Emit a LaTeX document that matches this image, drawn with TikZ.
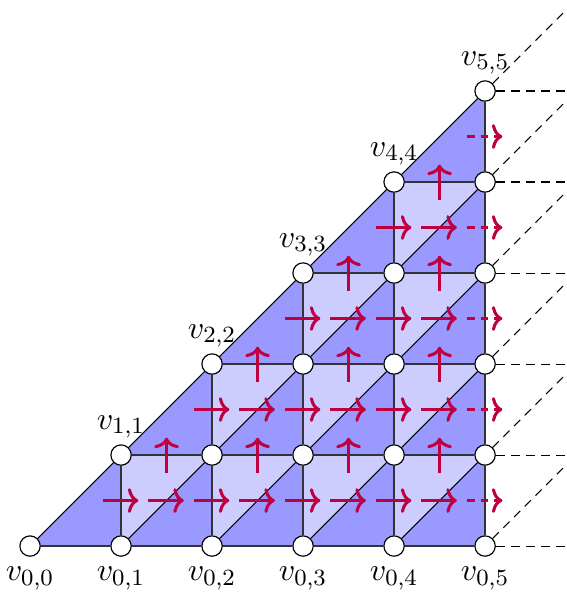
\documentclass[tikz,border=0pt]{standalone}
\usepackage{tikz}
\usetikzlibrary{arrows.meta, calc, backgrounds}

\begin{document}
\begin{tikzpicture}[x=1.1cm, y=1.1cm,
    vert/.style={circle, draw, fill=white, inner sep=0pt, minimum size=7pt},
    vlabel/.style={font=\fontsize{11}{13}\selectfont},
    edge/.style={black!80, line width=0.7pt},
    diag/.style={black, thin},
    far/.style={black, line width=0.35pt, dash pattern=on 3pt off 2.2pt},
    flow/.style={purple, line width=1.05pt, -{To[length=3.6pt,width=8.5pt]}},
    farflow/.style={flow, dash pattern=on 2.7pt off 2pt},
    lower/.style={fill=blue!40},
    upper/.style={fill=blue!20}]
    \useasboundingbox (-0.33,-0.505) rectangle (5.89,6);

    % vertices v_{i,j}: row i, column j
    \foreach \i in {0,...,5}
        \foreach \j in {\i,...,5}
            \node[vert] (v-\i-\j) at (\j,\i) {};

    \foreach \j in {0,...,5}
        \node[vlabel, below] (l-0-\j) at (v-0-\j.south) {$v_{0,\j}$};
    \foreach \i in {1,...,5}
        \node[vlabel, above, yshift=-1.5pt] (l-\i-\i) at (v-\i-\i.north) {$v_{\i,\i}$};

    % triangles
    \begin{scope}[on background layer]
    \foreach \i in {0,...,4}
        \foreach \j in {\i,...,4}{
            \pgfmathtruncatemacro{\ii}{\i+1}
            \pgfmathtruncatemacro{\jj}{\j+1}
            \fill[lower] (v-\i-\j.center) -- (v-\i-\jj.center) -- (v-\ii-\jj.center) -- cycle;
            \ifnum\j>\i
                \fill[upper] (v-\i-\j.center) -- (v-\ii-\j.center) -- (v-\ii-\jj.center) -- cycle;
            \fi
        }
    \end{scope}

    % grid
    \foreach \i in {0,...,4}
        \foreach \j in {\i,...,4}{
            \pgfmathtruncatemacro{\ii}{\i+1}
            \pgfmathtruncatemacro{\jj}{\j+1}
            \draw[edge] (v-\i-\j) -- (v-\i-\jj);
            \draw[edge] (v-\i-\jj) -- (v-\ii-\jj);
            \draw[diag] (v-\i-\j) -- (v-\ii-\jj);
        }

    % continuation to the right
    \foreach \i in {0,...,5}{
        \coordinate (r-\i) at (5.89,\i);
        \coordinate (d-\i) at (5.89,\i+0.89);
        \draw[far] (v-\i-5) -- (r-\i);
        \draw[far] (v-\i-5) -- (d-\i);
    }

    % flow across the edges
    \foreach \i in {0,...,3}{
        \pgfmathtruncatemacro{\ii}{\i+1}
        \foreach \j in {\ii,...,4}{
            \pgfmathtruncatemacro{\jj}{\j+1}
            \draw[flow] ($(v-\i-\j)!.5!(v-\ii-\j)+(-.2,0)$) -- ++(.39,0);
            \draw[flow] ($(v-\i-\j)!.5!(v-\ii-\jj)+(-.2,0)$) -- ++(.39,0);
        }
    }
    \foreach \i in {0,...,4}{
        \pgfmathtruncatemacro{\ii}{\i+1}
        \draw[farflow] ($(v-\i-5)!.5!(v-\ii-5)+(-.2,0)$) -- ++(.39,0);
    }
    \foreach \i in {1,...,4}
        \foreach \j in {\i,...,4}{
            \pgfmathtruncatemacro{\jj}{\j+1}
            \draw[flow] ($(v-\i-\j)!.5!(v-\i-\jj)+(0,-.2)$) -- ++(0,.39);
        }
\end{tikzpicture}
\end{document}
